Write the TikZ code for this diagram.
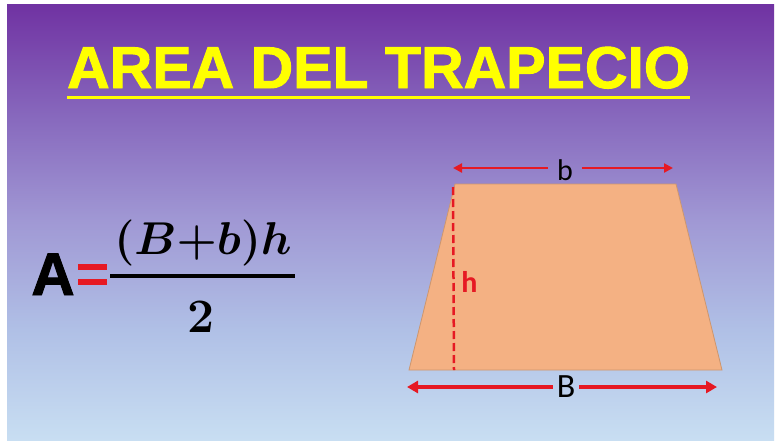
\documentclass[tikz,border=0pt]{standalone}
\usepackage{fontspec}
\usetikzlibrary{arrows.meta}
\newfontfamily\arialfont{Liberation Sans}
\newfontfamily\titlefont{Liberation Sans Bold}[FakeBold=1.6]
\newfontfamily\calfont{Carlito}
\definecolor{bgc0}{RGB}{200,222,242}
\definecolor{bgc1}{RGB}{176,192,230}
\definecolor{bgc2}{RGB}{160,152,212}
\definecolor{bgc3}{RGB}{136,106,190}
\definecolor{bgc4}{RGB}{112,50,162}
\pgfdeclareverticalshading{bgshade}{100bp}{color(0bp)=(bgc0); color(25bp)=(bgc0); color(37.6bp)=(bgc1); color(50.2bp)=(bgc2); color(61.7bp)=(bgc3); color(75bp)=(bgc4); color(100bp)=(bgc4)}
\definecolor{ttlyellow}{RGB}{255,255,0}
\definecolor{redc}{RGB}{230,25,35}
\definecolor{peach}{RGB}{244,177,131}
\definecolor{peachedge}{RGB}{205,150,110}
\newcommand{\numtext}{\scalebox{1.85}{\Huge\boldmath$(B{+}b)h$}}
\tikzset{
  title/.style={font=\titlefont\fontsize{59}{59}\selectfont, text=ttlyellow, inner sep=0pt, anchor=base},
  dimarrow/.style={draw=redc, line width=2.5pt, -{Triangle[length=9pt,width=9pt]}},
  bigarrow/.style={draw=redc, line width=4pt, -{Triangle[length=11pt,width=12pt]}},
  lbl/.style={font=\calfont\fontsize{30}{30}\selectfont, text=black, inner ysep=0pt},
}
\begin{document}
\begin{tikzpicture}[x=1pt,y=-1pt]
\useasboundingbox (0,0) rectangle (776,442);
\fill[white] (0,0) rectangle (776,442);
\shade[shading=bgshade] (7,4) rectangle (774,440);
% title
\node[title] (ttl) at (378.5,88) {AREA DEL TRAPECIO};
\draw[ttlyellow, line width=3pt] (67,97) -- (690,97);
% formula
\node[font=\titlefont\fontsize{60}{60}\selectfont, inner sep=0pt, anchor=base] (A) at (53,295) {A};
\fill[redc] (78,264) rectangle (107,270);
\fill[redc] (78,279) rectangle (107,285);
\node[inner sep=0pt, anchor=base] (num) at (203,254) {\numtext};
\draw[black, line width=4pt] (110,276) -- (295,276);
\node[font=\fontsize{48}{48}\selectfont\bfseries, inner sep=0pt, anchor=base] (den) at (201,332) {2};
% trapezoid
\filldraw[fill=peach, draw=peachedge, line width=0.8pt] (455,184) -- (676,184) -- (722,370) -- (409,370) -- cycle;
\draw[redc, line width=2.5pt, dash pattern=on 8pt off 4pt] (453,187) -- (454,370);
\node[font=\calfont\bfseries\fontsize{30}{30}\selectfont, text=redc, inner sep=0pt, anchor=base] (h) at (469.5,292) {h};
% b dimension
\node[lbl, inner xsep=9pt] (blab) at (565,170) {b};
\coordinate (bl) at (453,168);
\coordinate (br) at (673,168);
\draw[dimarrow] (blab.west |- bl) -- (bl);
\draw[dimarrow] (blab.east |- br) -- (br);
% B dimension
\node[lbl, font=\calfont\fontsize{34}{34}\selectfont, inner xsep=4pt] (Blab) at (566,387) {B};
\coordinate (Bl) at (407,387);
\coordinate (Br) at (717,387);
\draw[bigarrow] (Blab.west |- Bl) -- (Bl);
\draw[bigarrow] (Blab.east |- Br) -- (Br);
\end{tikzpicture}
\end{document}
